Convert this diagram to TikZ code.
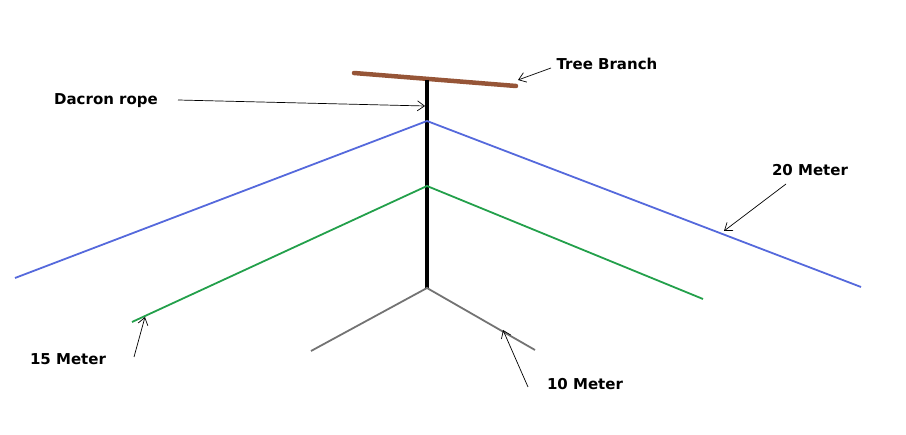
\documentclass[tikz,border=0pt]{standalone}
\usepackage{fontspec}
\setmainfont{DejaVu Sans}
\usetikzlibrary{arrows.meta}
\definecolor{branch}{RGB}{150,85,55}
\definecolor{wblue}{RGB}{85,105,220}
\definecolor{wgreen}{RGB}{35,160,75}
\definecolor{wgray}{RGB}{115,115,115}
\tikzset{
  lbl/.style={font=\bfseries\fontsize{15}{18}\selectfont, inner sep=1pt},
  pointer/.style={draw=black, line width=0.7pt, -{Straight Barb[length=7pt,width=10pt]}},
  wire/.style={line width=1.8pt},
}
\begin{document}
\begin{tikzpicture}[x=1pt,y=-1pt]
\useasboundingbox (0,0) rectangle (906,435);
% coordinates
\coordinate (bL) at (354,73);
\coordinate (bR) at (516,86);
\coordinate (rTop) at (427,80);
\coordinate (rBot) at (427,289);
\coordinate (blueL) at (15,278);
\coordinate (blueA) at (427,121);
\coordinate (blueR) at (861,287);
\coordinate (greenL) at (132,322);
\coordinate (greenA) at (427,186);
\coordinate (greenR) at (703,299);
\coordinate (grayL) at (311,351);
\coordinate (grayA) at (427,288);
\coordinate (grayR) at (535,350);
% wires
\draw[branch, line width=4.5pt, line cap=round] (bL) -- (bR);
\draw[black, line width=3.3pt] (rTop) -- (rBot);
\draw[wblue, wire] (blueL) -- (blueA) -- (blueR);
\draw[wgreen, wire] (greenL) -- (greenA) -- (greenR);
\draw[wgray, wire] (grayL) -- (grayA) -- (grayR);
% labels
\node[lbl] (tb) at (607,64) {Tree Branch};
\node[lbl] (dr) at (106,101) {Dacron rope};
\node[lbl] (m20) at (810,170) {20 Meter};
\node[lbl] (m15) at (68,359) {15 Meter};
\node[lbl] (m10) at (585,384) {10 Meter};
% pointer targets
\coordinate (tbT) at (518,80);
\coordinate (drT) at (425,106);
\coordinate (m20T) at (724,231);
\coordinate (m15T) at (145,317);
\coordinate (m10T) at (503,330);
\coordinate (tbS) at (551,68);
\coordinate (drS) at (178,100);
\coordinate (m20S) at (786,184);
\coordinate (m15S) at (134,357);
\coordinate (m10S) at (528,387);
\draw[pointer] (tbS) -- (tbT);
\draw[pointer] (drS) -- (drT);
\draw[pointer] (m20S) -- (m20T);
\draw[pointer] (m15S) -- (m15T);
\draw[pointer] (m10S) -- (m10T);
\end{tikzpicture}
\end{document}
